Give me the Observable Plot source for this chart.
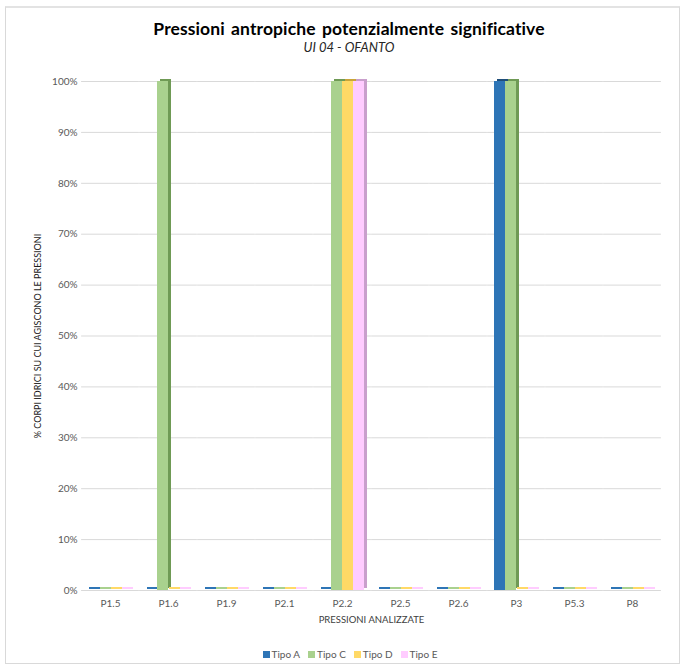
<!DOCTYPE html>
<html>
<head>
<meta charset="utf-8">
<script src="https://cdn.jsdelivr.net/npm/d3@7"></script>
<script src="https://cdn.jsdelivr.net/npm/@observablehq/plot@0.6"></script>
<style>
  html, body { margin: 0; padding: 0; background: #ffffff; }
  body { width: 684px; height: 667px; position: relative; overflow: hidden; font-family: Lato, "Open Sans", sans-serif; }
  #frame { position: absolute; left: 5px; top: 6px; width: 673px; height: 655px; border: 1px solid #d9d9d9; border-top: 2px solid #e3e3e3; background: #fff; }
  #title { position: absolute; left: 0; width: 698px; top: 18px; text-align: center; font-size: 17.5px; font-weight: bold; color: #000; letter-spacing: 0.1px; word-spacing: 2px; }
  #subtitle { position: absolute; left: 0; width: 698px; top: 39px; text-align: center; font-size: 13px; font-style: italic; color: #262626; }
  #chart { position: absolute; left: 0; top: 60px; }
  #legend { position: absolute; left: 0; width: 700px; top: 648px; text-align: center; font-size: 10px; color: #595959; }
  #legend span.item { margin: 0 4px; white-space: nowrap; }
  #legend span.sw { display: inline-block; width: 7px; height: 7px; margin-right: 2px; vertical-align: 0px; }
  g[aria-label="y-axis label"] text { font-size: 9px; fill: #1a1a1a; }
  g[aria-label="fx-axis label"] text { font-size: 9.5px; fill: #404040; }
</style>
</head>
<body>
<div id="frame"></div>
<div id="title">Pressioni antropiche potenzialmente significative</div>
<div id="subtitle">UI 04 - OFANTO</div>
<div id="chart"></div>
<div id="legend"></div>
<script>
const categories = ["P1.5", "P1.6", "P1.9", "P2.1", "P2.2", "P2.5", "P2.6", "P3", "P5.3", "P8"];
const tipi = ["Tipo A", "Tipo C", "Tipo D", "Tipo E"];
const tipoA = [0, 0, 0, 0, 0, 0, 0, 100, 0, 0];
const tipoC = [0, 100, 0, 0, 100, 0, 0, 100, 0, 0];
const tipoD = [0, 0, 0, 0, 100, 0, 0, 0, 0, 0];
const tipoE = [0, 0, 0, 0, 100, 0, 0, 0, 0, 0];
const yTicks = [0, 10, 20, 30, 40, 50, 60, 70, 80, 90, 100];
const colors = ["#2e75b6", "#a9d18e", "#ffd966", "#ffccff"];
const darkColors = ["#1f4e79", "#6f9a55", "#c9a43a", "#c99fcc"];

const series = [tipoA, tipoC, tipoD, tipoE];
const data = [];
categories.forEach((c, j) => tipi.forEach((t, i) => data.push({cat: c, tipo: t, value: series[i][j]})));

const marks = [
  Plot.ruleY(yTicks, {stroke: "#d9d9d9", strokeWidth: 1, insetLeft: -5.9, insetRight: -5.9})
];
tipi.forEach((t, i) => {
  const pos = data.filter(d => d.tipo === t && d.value > 0);
  const zero = data.filter(d => d.tipo === t && d.value === 0);
  marks.push(Plot.barY(zero, {fx: "cat", x: "tipo", y1: 0, y2: 0, insetTop: -3, insetBottom: 1, fill: colors[i], dx: 1}));
  marks.push(Plot.barY(pos, {fx: "cat", x: "tipo", y: "value", fill: darkColors[i], dx: 3, dy: -2}));
  marks.push(Plot.barY(pos, {fx: "cat", x: "tipo", y: "value", fill: colors[i]}));
});
marks.push(Plot.axisY({
  ticks: yTicks, tickSize: 0, tickPadding: 10, tickFormat: d => d + "%",
  fontSize: 10, color: "#595959",
  label: "% CORPI IDRICI SU CUI AGISCONO LE PRESSIONI", labelAnchor: "center", labelArrow: "none", labelOffset: 53
}));
marks.push(Plot.axisFx({
  anchor: "bottom", tickSize: 0, tickPadding: 9, fontSize: 10, color: "#595959",
  label: "PRESSIONI ANALIZZATE", labelAnchor: "center", labelArrow: "none", labelOffset: 32
}));

const chart = Plot.plot({
  width: 684,
  height: 575,
  marginTop: 21,
  marginBottom: 45,
  marginLeft: 78,
  marginRight: 20,
  style: {fontFamily: "Lato, 'Open Sans', sans-serif", background: "transparent", color: "#595959"},
  fx: {domain: categories, paddingInner: 0.2, paddingOuter: 0.1, label: "PRESSIONI ANALIZZATE"},
  x: {domain: tipi, padding: 0, axis: null},
  y: {domain: [0, 100], axis: null},
  marks
});
document.getElementById("chart").appendChild(chart);

const legend = document.getElementById("legend");
tipi.forEach((t, i) => {
  const item = document.createElement("span");
  item.className = "item";
  const sw = document.createElement("span");
  sw.className = "sw";
  sw.style.background = colors[i];
  item.appendChild(sw);
  item.appendChild(document.createTextNode(t));
  legend.appendChild(item);
});
</script>
</body>
</html>
